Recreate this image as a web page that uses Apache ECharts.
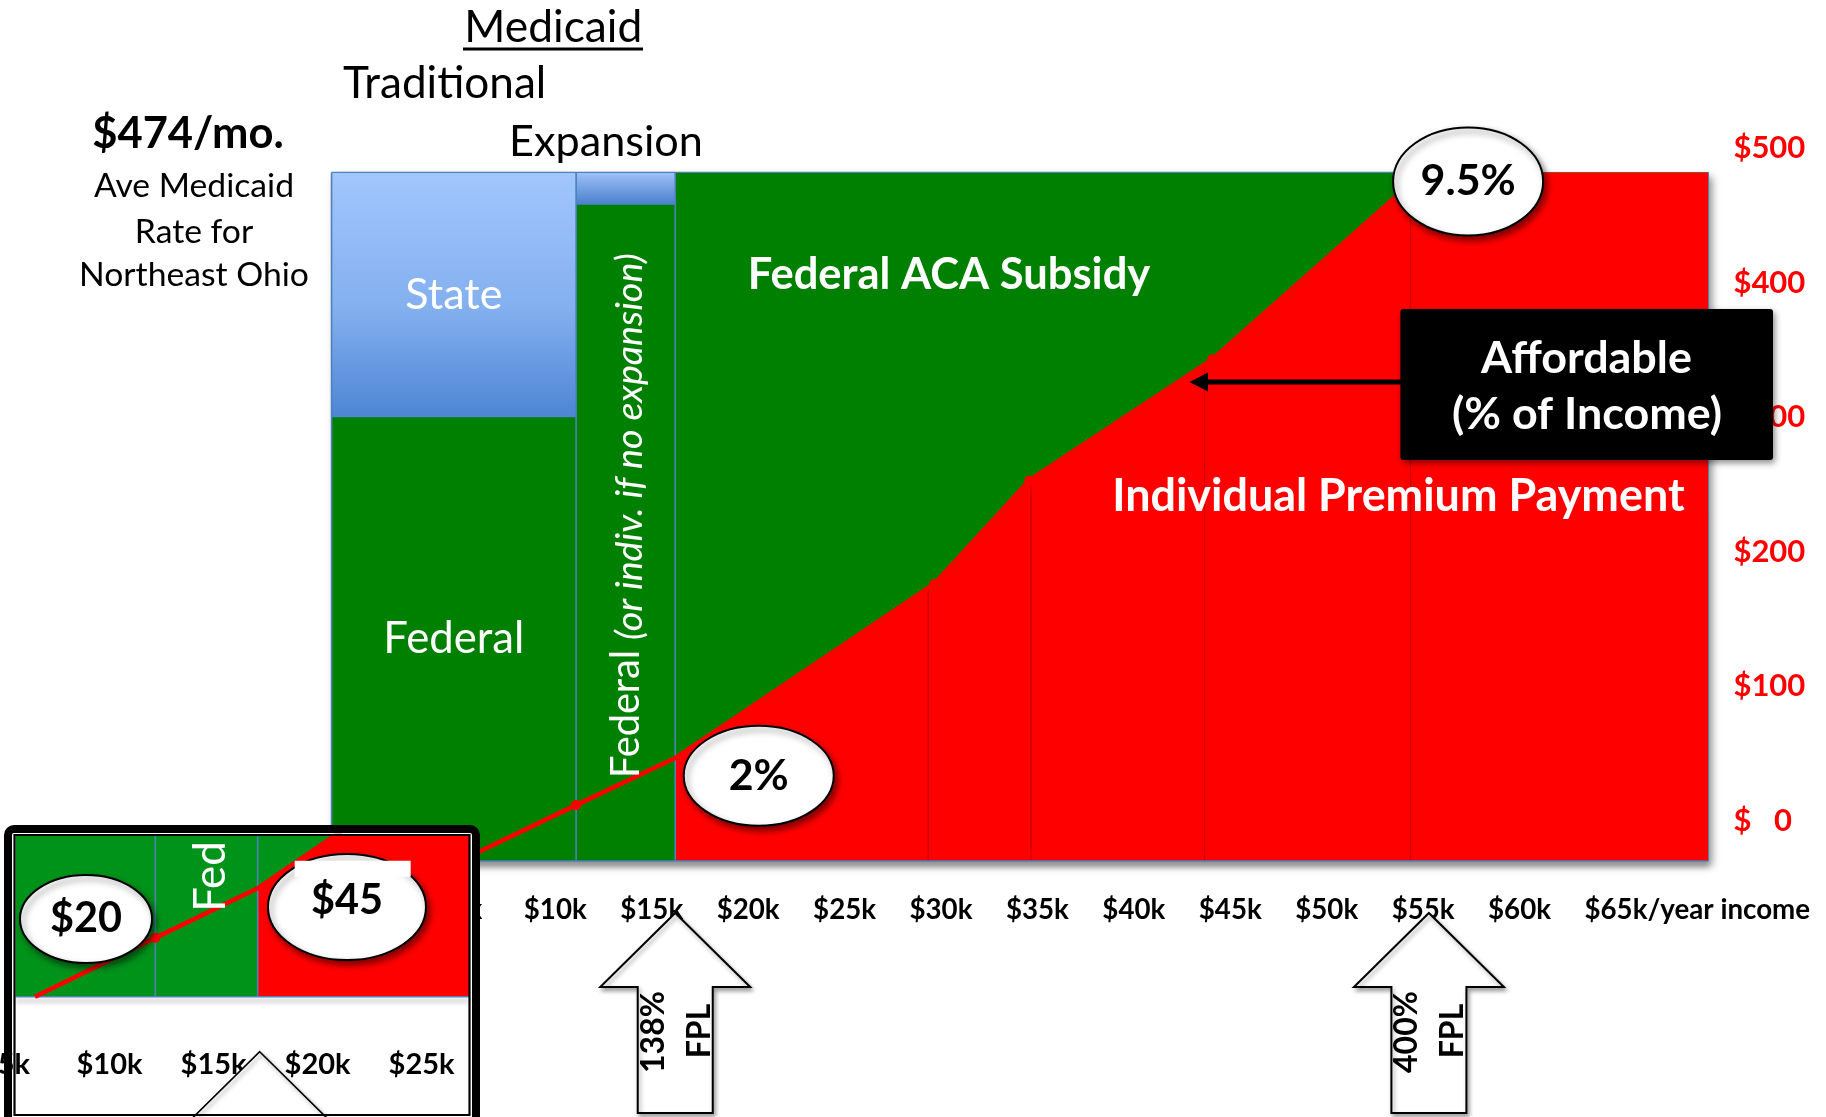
<!DOCTYPE html>
<html>
<head>
<meta charset="utf-8">
<script src="https://cdn.jsdelivr.net/npm/echarts@6/dist/echarts.min.js"></script>
<style>html,body{margin:0;padding:0;background:#fff}#c{width:1826px;height:1117px}</style>
</head>
<body>
<div id="c"></div>
<script>
// ---------------- data (income in $k / year, premium in $ / month, read against the axis labels) -------------
const xTickValues = [0, 5, 10, 15, 20, 25, 30, 35, 40, 45, 50, 55, 60, 65];
const yTickValues = [0, 100, 200, 300, 400, 500];
const insetTickValues = [5, 10, 15, 20, 25];

const plotIncomeStart = -1.6;
const plotIncomeEnd = 69.8;
const plotPremiumBottom = -30;
const aveMedicaidRate = 482;        // top of the coloured block ($474/mo. rate)
const traditionalLimit = 11.08;     // end of traditional Medicaid
const expansionLimit = 16.22;       // 138% FPL
const fpl400Income = 55.3;          // 400% FPL
const stateShareFrom = 300;         // traditional column: state share above this level
const expansionStateFrom = 458;     // expansion column: state share above this level

// individual premium payment curve
const premiumIncome = [5.04, 11.08, 16.22, 29.65, 34.58, 44.07, 55.0, 69.8];
const premiumAmount = [-30, 11.6, 46.6, 176, 253, 343, 482, 482];
const premiumDots = [false, true, false, true, true, true, false, false];
// thin column dividers inside the red area
const dividerIncome = [29.34, 34.66, 43.66, 54.35];

// ---------------- helpers -------------
const FONT = 'Lato';
const mctx = document.createElement('canvas').getContext('2d');
function measure(text, size, weight, style) {
  mctx.font = (style || 'normal') + ' ' + (weight || 'normal') + ' ' + size + 'px ' + FONT;
  return mctx.measureText(text).width;
}
function fit(text, width, weight, style) {
  return +(100 * width / measure(text, 100, weight, style)).toFixed(1);
}
function curveAt(x) {
  for (let i = 0; i < premiumIncome.length - 1; i++) {
    const a = premiumIncome[i], b = premiumIncome[i + 1];
    if (x >= a && x <= b) return premiumAmount[i] + (x - a) / (b - a) * (premiumAmount[i + 1] - premiumAmount[i]);
  }
  return premiumAmount[premiumAmount.length - 1];
}
function ix(a, b, x) { const t = (x - a[0]) / (b[0] - a[0]); return [x, a[1] + t * (b[1] - a[1])]; }
function iy(a, b, y) { const t = (y - a[1]) / (b[1] - a[1]); return [a[0] + t * (b[0] - a[0]), y]; }
function clipPoly(pts, r) {
  const edges = [
    [p => p[0] >= r.x, (a, b) => ix(a, b, r.x)],
    [p => p[0] <= r.x + r.width, (a, b) => ix(a, b, r.x + r.width)],
    [p => p[1] >= r.y, (a, b) => iy(a, b, r.y)],
    [p => p[1] <= r.y + r.height, (a, b) => iy(a, b, r.y + r.height)]
  ];
  let out = pts;
  for (const [inside, inter] of edges) {
    const inp = out; out = [];
    for (let i = 0; i < inp.length; i++) {
      const cur = inp[i], prev = inp[(i + inp.length - 1) % inp.length];
      if (inside(cur)) { if (!inside(prev)) out.push(inter(prev, cur)); out.push(cur); }
      else if (inside(prev)) out.push(inter(prev, cur));
    }
    if (!out.length) break;
  }
  return out;
}
function clipSeg(a, b, r) {
  const x0 = r.x, x1 = r.x + r.width, y0 = r.y, y1 = r.y + r.height;
  if (Math.abs(a[0] - b[0]) < 0.01 && (a[0] < x0 - 0.5 || a[0] > x1 + 0.5)) return null;
  if (Math.abs(a[1] - b[1]) < 0.01 && (a[1] < y0 - 0.5 || a[1] > y1 + 0.5)) return null;
  const cl = (v, lo, hi) => Math.max(lo, Math.min(hi, v));
  return [[cl(a[0], x0, x1), cl(a[1], y0, y1)], [cl(b[0], x0, x1), cl(b[1], y0, y1)]];
}

function plotRenderer(green, clip, shadow) {
  return function (params, api) {
    const cs = params.coordSys;
    const box = {x: cs.x, y: cs.y, width: cs.width, height: cs.height};
    const P = (x, y) => api.coord([x, y]);
    const kids = [];
    function rect(x0, x1, y0, y1, style) {
      const a = P(x0, y1), b = P(x1, y0);
      let r = {x: a[0], y: a[1], width: b[0] - a[0], height: b[1] - a[1]};
      if (clip) { r = echarts.graphic.clipRectByRect(r, box); if (!r || r.width <= 0 || r.height <= 0) return; }
      kids.push({type: 'rect', shape: r, style: style});
    }
    function poly(pts, style) {
      let p = pts.map(d => P(d[0], d[1]));
      if (clip) p = clipPoly(p, box);
      if (p.length < 3) return;
      kids.push({type: 'polygon', shape: {points: p}, style: style});
    }
    function seg(x0, y0, x1, y1, style) {
      let a = P(x0, y0), b = P(x1, y1);
      if (clip) { const s = clipSeg(a, b, box); if (!s) return; a = s[0]; b = s[1]; }
      kids.push({type: 'line', shape: {x1: a[0], y1: a[1], x2: b[0], y2: b[1]}, style: style});
    }
    const blueTop = new echarts.graphic.LinearGradient(0, 0, 0, 1, [
      {offset: 0, color: '#a2c6fd'}, {offset: 0.55, color: '#84b0ef'}, {offset: 1, color: '#4d85d4'}]);
    const bandTop = new echarts.graphic.LinearGradient(0, 0, 0, 1, [
      {offset: 0, color: '#9fc2f7'}, {offset: 1, color: '#4a7fcd'}]);
    const border = {stroke: '#4f81bd', lineWidth: 1.6};

    // whole block with drop shadow
    rect(plotIncomeStart, plotIncomeEnd, plotPremiumBottom, aveMedicaidRate,
      shadow ? {fill: green, shadowBlur: 8, shadowOffsetX: 3, shadowOffsetY: 5, shadowColor: 'rgba(0,0,0,0.45)'} : {fill: green});
    // ACA: subsidy (green) + individual payment (red)
    rect(expansionLimit, plotIncomeEnd, plotPremiumBottom, aveMedicaidRate, {fill: green});
    const red = [[expansionLimit, plotPremiumBottom]];
    premiumIncome.forEach((x, i) => { if (x >= expansionLimit) red.push([x, premiumAmount[i]]); });
    red.push([plotIncomeEnd, plotPremiumBottom]);
    poly(red, {fill: '#ff0000'});
    dividerIncome.forEach(x => seg(x, curveAt(x), x, plotPremiumBottom, {stroke: '#cc0000', lineWidth: 1.3}));
    // Traditional Medicaid column
    rect(plotIncomeStart, traditionalLimit, plotPremiumBottom, stateShareFrom, {fill: green});
    rect(plotIncomeStart, traditionalLimit, stateShareFrom, aveMedicaidRate, {fill: blueTop});
    // Expansion column
    rect(traditionalLimit, expansionLimit, plotPremiumBottom, expansionStateFrom, {fill: green});
    rect(traditionalLimit, expansionLimit, expansionStateFrom, aveMedicaidRate,
      {fill: bandTop, shadowBlur: 5, shadowOffsetY: 3, shadowColor: 'rgba(0,0,0,0.4)'});
    // borders
    seg(plotIncomeStart, plotPremiumBottom, plotIncomeStart, aveMedicaidRate, border);
    seg(traditionalLimit, plotPremiumBottom, traditionalLimit, aveMedicaidRate, border);
    seg(expansionLimit, plotPremiumBottom, expansionLimit, aveMedicaidRate, border);
    seg(plotIncomeStart, aveMedicaidRate, fpl400Income, aveMedicaidRate, {stroke: '#4f81bd', lineWidth: 1.2});
    seg(plotIncomeStart, plotPremiumBottom, plotIncomeEnd, plotPremiumBottom,
      {stroke: '#4f81bd', lineWidth: 1.6, shadowBlur: 5, shadowOffsetY: 4, shadowColor: 'rgba(0,0,0,0.45)'});
    seg(plotIncomeEnd, plotPremiumBottom, plotIncomeEnd, aveMedicaidRate, {stroke: '#5b7fb0', lineWidth: 1});
    return {type: 'group', children: kids};
  };
}

const lineData = premiumIncome.slice(0, 7).map((x, i) => ({
  value: [x, premiumAmount[i]],
  symbol: premiumDots[i] ? 'circle' : 'none',
  symbolSize: premiumDots[i] ? 10 : 0
}));

const xLabelSize = fit('$15k', 63, 'bold');
const yLabelSize = fit('$500', 72, 'bold');
const insetLabelSize = fit('$10k', 66, 'bold');

const chart = echarts.init(document.getElementById('c'), null, {width: 1826, height: 1117});

const hiddenAxis = {axisLine: {show: false, onZero: false}, axisTick: {show: false}, splitLine: {show: false}};

const option = {
  animation: false,
  backgroundColor: '#ffffff',
  grid: [
    {left: 266, top: 148.2, width: 1446.4, height: 739.75, containLabel: false, outerBoundsMode: 'none'},
    {left: 15.7, top: 836, width: 453.3, height: 160.7, containLabel: false, outerBoundsMode: 'none'},
    {left: 5.5, top: 836, width: 463.3, height: 160.7, containLabel: false, outerBoundsMode: 'none'}
  ],
  xAxis: [
    Object.assign({type: 'value', gridIndex: 0, position: 'bottom', min: -5, max: 70, interval: 5,
      axisLabel: {margin: 22, verticalAlign: 'middle', fontFamily: FONT, fontWeight: 'bold', fontSize: xLabelSize, color: '#000',
        formatter: v => xTickValues.includes(v) ? '$' + v + 'k' : ''}}, hiddenAxis),
    Object.assign({type: 'value', gridIndex: 2, position: 'bottom', min: 5, max: 27.27, interval: 5, z: 32,
      axisLabel: {margin: 68, verticalAlign: 'middle', fontFamily: FONT, fontWeight: 'bold', fontSize: insetLabelSize, color: '#000',
        formatter: v => insetTickValues.includes(v) ? '$' + v + 'k' : ''}}, hiddenAxis),
    {type: 'value', gridIndex: 1, position: 'bottom', min: 4.07, max: 26.83, show: false}
  ],
  yAxis: [
    Object.assign({type: 'value', gridIndex: 0, position: 'right', min: -50, max: 500, interval: 50,
      axisLabel: {margin: 21, align: 'left', fontFamily: FONT, fontWeight: 'bold', fontSize: yLabelSize, color: '#ff0000',
        formatter: v => v === 0 ? '$   0' : (yTickValues.includes(v) ? '$' + v : '')}}, hiddenAxis),
    {type: 'value', gridIndex: 1, min: -30, max: 83.6, show: false},
    {type: 'value', gridIndex: 2, min: 0, max: 1, show: false}
  ],
  series: [
    {type: 'custom', name: 'Coverage', xAxisIndex: 0, yAxisIndex: 0, z: 2, silent: true,
      renderItem: plotRenderer('#008000', false, true), data: [[traditionalLimit, 0]]},
    {type: 'line', name: 'Individual premium', xAxisIndex: 0, yAxisIndex: 0, z: 3, silent: true,
      data: lineData, lineStyle: {color: '#ff0000', width: 4.5}, itemStyle: {color: '#ff0000'}},
    {type: 'custom', name: 'Coverage (detail)', xAxisIndex: 2, yAxisIndex: 1, z: 30, silent: true,
      renderItem: plotRenderer('#00931a', true, false), data: [[traditionalLimit, 0]]},
    {type: 'line', name: 'Individual premium (detail)', xAxisIndex: 2, yAxisIndex: 1, z: 31, silent: true, clip: true,
      data: lineData, lineStyle: {color: '#ff0000', width: 4.5}, itemStyle: {color: '#ff0000'}}
  ]
};
chart.setOption(option);

// ---------------- annotations (anchored on data through the chart's own scales) -------------
const M = (x, y) => chart.convertToPixel({seriesIndex: 0}, [x, y]);
const I = (x, y) => chart.convertToPixel({seriesIndex: 2}, [x, y]);

function txt(x, y, text, size, o) {
  o = o || {};
  const font = (o.style || 'normal') + ' ' + (o.weight || 'normal') + ' ' + size + 'px ' + FONT;
  return {type: 'text', x: x, y: y, z: o.z || 10, rotation: o.rotation || 0, silent: true,
    style: {text: text, fill: o.color || '#000', font: font,
      align: o.align || 'center', textAlign: o.align || 'center',
      verticalAlign: 'middle', textVerticalAlign: 'middle'}};
}
const shadowStyle = {shadowBlur: 6, shadowOffsetX: 3, shadowOffsetY: 4, shadowColor: 'rgba(0,0,0,0.5)'};
function bubble(cx, cy, rx, ry, text, size, z, dy) {
  return [
    {type: 'ellipse', z: z, silent: true, shape: {cx: cx, cy: cy, rx: rx, ry: ry},
      style: Object.assign({fill: '#fff', stroke: '#000', lineWidth: 2}, shadowStyle)},
    txt(cx, cy + (dy || 0), text, size, {weight: 'bold', z: z + 1})
  ];
}
function blockArrow(tx, ty, z, lw) {
  return {type: 'polygon', z: z, silent: true,
    shape: {points: [[tx, ty], [tx + 75, ty + 74], [tx + 37.5, ty + 74], [tx + 37.5, ty + 200],
      [tx - 37.5, ty + 200], [tx - 37.5, ty + 74], [tx - 75, ty + 74]]},
    style: Object.assign({fill: '#fff', stroke: '#000', lineWidth: lw}, {shadowBlur: 4, shadowOffsetX: 2, shadowOffsetY: 3, shadowColor: 'rgba(0,0,0,0.35)'})};
}

const g = [];
// headings
g.push(txt(553.3, 27.5, 'Medicaid', fit('Medicaid', 178)));
g.push({type: 'rect', z: 10, silent: true, shape: {x: 463, y: 47.5, width: 180, height: 3}, style: {fill: '#000'}});
g.push(txt(444.7, 84, 'Traditional', fit('Traditional', 203)));
g.push(txt(606, 141.7, 'Expansion', fit('Expansion', 194)));
g.push(txt(188, 134, '$474/mo.', fit('$474/mo.', 191.5, 'bold'), {weight: 'bold'}));
const infoSize = fit('Northeast Ohio', 229.8);
g.push(txt(194, 186, 'Ave Medicaid', infoSize));
g.push(txt(194, 231.7, 'Rate for', infoSize));
g.push(txt(194, 275.3, 'Northeast Ohio', infoSize));

// labels in the coloured block
const tradMid = (plotIncomeStart + traditionalLimit) / 2;
const expMid = (traditionalLimit + expansionLimit) / 2;
const pState = M(tradMid, (stateShareFrom + aveMedicaidRate) / 2);
const pFed = M(tradMid, (plotPremiumBottom + stateShareFrom) / 2);
g.push(txt(pState[0], pState[1], 'State', fit('State', 97), {color: '#fff'}));
const fedSize = fit('Federal', 141);
g.push(txt(pFed[0], pFed[1], 'Federal', fedSize, {color: '#fff'}));
const pExp = M(expMid, 0);
const vFedSize = fit('Federal', 128);
g.push(txt(pExp[0] + 1, 778, 'Federal', vFedSize, {color: '#fff', align: 'left', rotation: Math.PI / 2}));
g.push(txt(pExp[0] + 4, 640, '(or indiv. if no expansion)', fit('(or indiv. if no expansion)', 387, 'normal', 'italic'),
  {color: '#fff', align: 'left', style: 'italic', rotation: Math.PI / 2}));
g.push(txt(949, 275, 'Federal ACA Subsidy', fit('Federal ACA Subsidy', 402.5, 'bold'), {color: '#fff', weight: 'bold'}));
g.push(txt(1398.4, 497, 'Individual Premium Payment', fit('Individual Premium Payment', 573, 'bold'), {color: '#fff', weight: 'bold'}));

// "Affordable" box with arrow
g.push({type: 'rect', z: 12, silent: true, shape: {x: 1400.4, y: 309, width: 372.6, height: 151, r: 3},
  style: Object.assign({fill: '#000'}, {shadowBlur: 6, shadowOffsetX: 2, shadowOffsetY: 3, shadowColor: 'rgba(0,0,0,0.45)'})});
const affSize = (fit('Affordable', 209.6, 'bold') + fit('(% of Income)', 272, 'bold')) / 2;
g.push(txt(1586.5, 359, 'Affordable', affSize, {color: '#fff', weight: 'bold', z: 13}));
g.push(txt(1587, 415, '(% of Income)', affSize, {color: '#fff', weight: 'bold', z: 13}));
g.push({type: 'line', z: 12, silent: true, shape: {x1: 1401, y1: 382, x2: 1204, y2: 382}, style: {stroke: '#000', lineWidth: 5}});
g.push({type: 'polygon', z: 12, silent: true, shape: {points: [[1189.5, 382], [1208, 372.5], [1208, 391.5]]}, style: {fill: '#000'}});

// percentage bubbles on the curve
const p2 = M(expansionLimit, premiumAmount[2]);
g.push(...bubble(p2[0] + 83.5, p2[1] + 17.8, 75, 50, '2%', fit('2%', 60, 'bold'), 14));
const p95 = M(premiumIncome[6], premiumAmount[6]);
g.push(...bubble(p95[0] + 45, p95[1] + 9, 75, 54, '9.5%', fit('9.5%', 95, 'bold'), 14));

// FPL block arrows
const fplSize = fit('400%', 82, 'bold');
[[expansionLimit, '138%'], [fpl400Income, '400%']].forEach(([inc, lab]) => {
  const tx = M(inc, 0)[0];
  g.push(blockArrow(tx, 913, 14, 2));
  g.push(txt(tx - 22, 1032, lab, fplSize, {weight: 'bold', rotation: Math.PI / 2, z: 15}));
  g.push(txt(tx + 24, 1031, 'FPL', fplSize, {weight: 'bold', rotation: Math.PI / 2, z: 15}));
});

// "/year income" continuation of the last tick label
const p65 = M(65, 0)[0];
g.push(txt(p65 + measure('$65k', xLabelSize, 'bold') / 2, 910, '/year income', xLabelSize, {weight: 'bold', align: 'left'}));

// ---- detail inset (lower left) ----
g.push({type: 'rect', z: 20, silent: true, shape: {x: 11, y: 832, width: 462, height: 300}, style: {fill: '#fff'}});
const iExp = I(expansionLimit, 0);
g.push(blockArrow(iExp[0] + 2, 1051.7, 35, 1.6));
const iMid = I(expMid, 0);
g.push(txt(iMid[0] + 4, 911.7, 'Fed', +(vFedSize * 1.1).toFixed(1), {color: '#fff', align: 'left', rotation: Math.PI / 2, z: 33}));
const i20 = I(traditionalLimit, premiumAmount[1]);
g.push(...bubble(i20[0] - 69.3, i20[1] - 18.9, 66, 44, '$20', fit('$20', 72, 'bold'), 36));
const i45 = I(expansionLimit, premiumAmount[2]);
g.push(...bubble(i45[0] + 89.3, i45[1] + 18.7, 79, 53, '$45', fit('$45', 72, 'bold'), 36, -6));
g.push({type: 'rect', z: 38, silent: true, shape: {x: i45[0] + 37, y: i45[1] - 27.5, width: 116, height: 16}, style: {fill: '#fff'}});
g.push({type: 'rect', z: 40, silent: true, shape: {x: 8, y: 829, width: 468, height: 300, r: 6},
  style: {fill: 'none', stroke: '#000', lineWidth: 8}});
g.push({type: 'rect', z: 40, silent: true, shape: {x: 14.5, y: 835, width: 455, height: 280},
  style: {fill: 'none', stroke: '#000', lineWidth: 2.2}});

chart.setOption({graphic: {elements: g}});
</script>
</body>
</html>
